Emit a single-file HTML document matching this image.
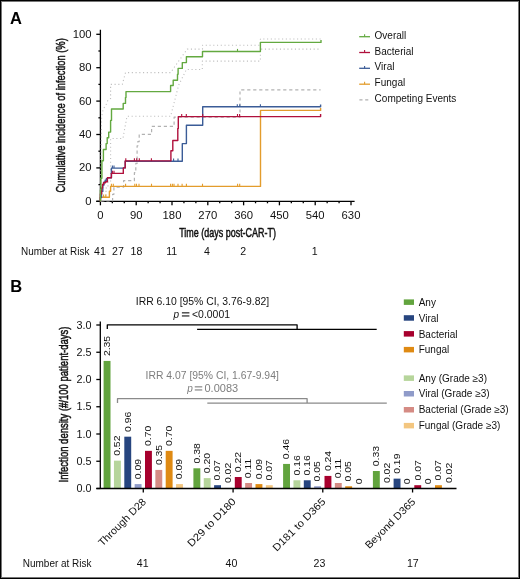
<!DOCTYPE html>
<html><head><meta charset="utf-8"><style>
html,body{margin:0;padding:0;background:#fff;}
svg{display:block;will-change:transform;font-family:"Liberation Sans", sans-serif;}
</style></head><body>
<svg width="520" height="579" viewBox="0 0 520 579">
<rect width="520" height="579" fill="#fff"/>
<rect x="0.5" y="0.5" width="519" height="578" fill="none" stroke="#000" stroke-width="1"/>
<rect x="1.5" y="1.5" width="517" height="576" fill="none" stroke="#777" stroke-width="1"/>
<text x="10.00" y="23.70" font-size="16.5" text-anchor="start" fill="#000" font-weight="bold">A</text>
<g stroke="#000" stroke-width="1.3" fill="none">
<path d="M100.4,29.7 V201.3 M96.3,201.3 H354.6"/>
<path d="M96.3,201.30 H100.4"/>
<path d="M98.4,184.60 H100.4"/>
<path d="M96.3,167.90 H100.4"/>
<path d="M98.4,151.20 H100.4"/>
<path d="M96.3,134.50 H100.4"/>
<path d="M98.4,117.80 H100.4"/>
<path d="M96.3,101.10 H100.4"/>
<path d="M98.4,84.40 H100.4"/>
<path d="M96.3,67.70 H100.4"/>
<path d="M98.4,51.00 H100.4"/>
<path d="M96.3,34.30 H100.4"/>
<path d="M100.40,201.3 V205.3"/>
<path d="M112.33,201.3 V203.3"/>
<path d="M124.27,201.3 V203.3"/>
<path d="M136.20,201.3 V205.3"/>
<path d="M148.14,201.3 V203.3"/>
<path d="M160.07,201.3 V203.3"/>
<path d="M172.00,201.3 V205.3"/>
<path d="M183.94,201.3 V203.3"/>
<path d="M195.87,201.3 V203.3"/>
<path d="M207.81,201.3 V205.3"/>
<path d="M219.74,201.3 V203.3"/>
<path d="M231.67,201.3 V203.3"/>
<path d="M243.61,201.3 V205.3"/>
<path d="M255.54,201.3 V203.3"/>
<path d="M267.48,201.3 V203.3"/>
<path d="M279.41,201.3 V205.3"/>
<path d="M291.34,201.3 V203.3"/>
<path d="M303.28,201.3 V203.3"/>
<path d="M315.21,201.3 V205.3"/>
<path d="M327.15,201.3 V203.3"/>
<path d="M339.08,201.3 V203.3"/>
<path d="M351.01,201.3 V205.3"/>
</g>
<text x="91.60" y="204.80" font-size="10" text-anchor="end" fill="#111" textLength="6.28" lengthAdjust="spacingAndGlyphs" >0</text>
<text x="91.60" y="171.40" font-size="10" text-anchor="end" fill="#111" textLength="12.57" lengthAdjust="spacingAndGlyphs" >20</text>
<text x="91.60" y="138.00" font-size="10" text-anchor="end" fill="#111" textLength="12.57" lengthAdjust="spacingAndGlyphs" >40</text>
<text x="91.60" y="104.60" font-size="10" text-anchor="end" fill="#111" textLength="12.57" lengthAdjust="spacingAndGlyphs" >60</text>
<text x="91.60" y="71.20" font-size="10" text-anchor="end" fill="#111" textLength="12.57" lengthAdjust="spacingAndGlyphs" >80</text>
<text x="91.60" y="37.80" font-size="10" text-anchor="end" fill="#111" textLength="18.85" lengthAdjust="spacingAndGlyphs" >100</text>
<text x="100.40" y="219.30" font-size="10" text-anchor="middle" fill="#111" textLength="6.28" lengthAdjust="spacingAndGlyphs" >0</text>
<text x="136.20" y="219.30" font-size="10" text-anchor="middle" fill="#111" textLength="12.57" lengthAdjust="spacingAndGlyphs" >90</text>
<text x="172.00" y="219.30" font-size="10" text-anchor="middle" fill="#111" textLength="18.85" lengthAdjust="spacingAndGlyphs" >180</text>
<text x="207.81" y="219.30" font-size="10" text-anchor="middle" fill="#111" textLength="18.85" lengthAdjust="spacingAndGlyphs" >270</text>
<text x="243.61" y="219.30" font-size="10" text-anchor="middle" fill="#111" textLength="18.85" lengthAdjust="spacingAndGlyphs" >360</text>
<text x="279.41" y="219.30" font-size="10" text-anchor="middle" fill="#111" textLength="18.85" lengthAdjust="spacingAndGlyphs" >450</text>
<text x="315.21" y="219.30" font-size="10" text-anchor="middle" fill="#111" textLength="18.85" lengthAdjust="spacingAndGlyphs" >540</text>
<text x="351.01" y="219.30" font-size="10" text-anchor="middle" fill="#111" textLength="18.85" lengthAdjust="spacingAndGlyphs" >630</text>
<text x="179.20" y="237.30" font-size="12.8" text-anchor="start" fill="#111" textLength="96.80" lengthAdjust="spacingAndGlyphs" stroke="#111" stroke-width="0.5">Time (days post-CAR-T)</text>
<text transform="translate(64.80,192.50) rotate(-90)" font-size="13.2" text-anchor="start" fill="#111" textLength="154.30" lengthAdjust="spacingAndGlyphs" stroke="#111" stroke-width="0.5">Cumulative incidence of infection (%)</text>
<path d="M100.4,201.3 L101.6,116.8 L103,110 L104.5,107 L106.5,104 L108,100 L110.6,98.5 V84.4 H122.3 L125.5,72.6 H170.6 L178,62 L187.3,49.1 H202.5 V45.2 H260.4 V39 H320.6" fill="none" stroke="#bebebe" stroke-width="1.1" stroke-linejoin="round" stroke-dasharray="1.1 2.65"/>
<path d="M100.4,201.3 H104 V195 H106 V188 H108 V182 H110.6 V138.5 H122.9 L127,116.3 H170.6 L178.7,85.1 L186.4,69.5 H202.3 V61.1 H260.4 V49.1 H320.6" fill="none" stroke="#bebebe" stroke-width="1.1" stroke-linejoin="round" stroke-dasharray="1.1 2.65"/>
<path d="M100.4,201 H112.6 V194.3 H113.9 V187.2 H123.6 V180.7 H134.4 V172.7 H135.8 V163.4 H137.1 V145.8 H137.8 V141.6 H139.2 V134.4 H151.6 V126.4 H174.1 V117.2 H240 V89.8 H320.6" fill="none" stroke="#b2b2b2" stroke-width="1.2" stroke-linejoin="round" stroke-dasharray="3.2 2.8"/>
<path d="M100.4,201.3 V197.2 H109.4 V191.3 H110.6 V186.4 H260.5 V110.4 H320.6 V108" fill="none" stroke="#e39c2c" stroke-width="1.4" stroke-linejoin="round" />
<path d="M103.6,197.2 V194.6 M105.8,197.2 V194.6" fill="none" stroke="#e39c2c" stroke-width="1.1" stroke-linejoin="round" />
<path d="M111.4,186.4 V183.8 M113.3,186.4 V183.8 M125.6,186.4 V183.8 M134.8,186.4 V183.8 M136.5,186.4 V183.8 M139,186.4 V183.8 M151.5,186.4 V183.8 M170.6,186.4 V183.8 M172.4,186.4 V183.8 M174,186.4 V183.8 M178,186.4 V183.8 M182.1,186.4 V183.8 M186.4,186.4 V183.8 M202.5,186.4 V183.8 M237.6,186.4 V183.8 M239.7,186.4 V183.8" fill="none" stroke="#e39c2c" stroke-width="1.1" stroke-linejoin="round" />
<path d="M100.4,201.3 V197.5 H101.5 V191.4 H102.8 V185 H104 V182 H105.2 V180.3 H106.4 V178.6 H107.6 V177.8 H111.4 V168.1 H123.3 V167.9 H125.2 V161.2 H182.3 V143.6 H186.4 V125.2 H202.7 V106.8 H320.6 V104.4" fill="none" stroke="#3b5c97" stroke-width="1.4" stroke-linejoin="round" />
<path d="M173.6,161.2 V158.6 M178,161.2 V158.6" fill="none" stroke="#3b5c97" stroke-width="1.1" stroke-linejoin="round" />
<path d="M237.3,106.8 V104.2 M239.8,106.8 V104.2 M260.4,106.8 V104.2" fill="none" stroke="#3b5c97" stroke-width="1.1" stroke-linejoin="round" />
<path d="M112.4,168.1 V165.5 M114,168.1 V165.5" fill="none" stroke="#3b5c97" stroke-width="1.1" stroke-linejoin="round" />
<path d="M100.4,201.3 V194 H101.6 V188 H102.5 V184.5 H103.5 V182.8 H105.5 V181.7 H107.4 V177.8 H111.4 V173.4 H123.3 V167.9 H125.2 V160.9 H170.9 V150.7 H172.8 V140.5 H177.8 V128.5 H178.3 V116.6 H320.6 V114.1" fill="none" stroke="#b0103c" stroke-width="1.4" stroke-linejoin="round" />
<path d="M125.8,160.9 V158.3 M134.4,160.9 V158.3 M136.7,160.9 V158.3 M139.3,160.9 V158.3 M151.4,160.9 V158.3" fill="none" stroke="#b0103c" stroke-width="1.1" stroke-linejoin="round" />
<path d="M181.7,116.6 V114.0 M186.3,116.6 V114.0 M202.7,116.6 V114.0 M237.5,116.6 V114.0 M239.6,116.6 V114.0" fill="none" stroke="#b0103c" stroke-width="1.1" stroke-linejoin="round" />
<path d="M112.4,173.4 V170.8 M114,173.4 V170.8" fill="none" stroke="#b0103c" stroke-width="1.1" stroke-linejoin="round" />
<path d="M100.4,201.3 V190 H100.9 V178.2 H101.9 V160.8 H103.4 V149.5 H106.1 V143.6 H107.2 V137.8 H108.7 V132.1 H110.6 V120.4 H111.5 V109 H123.2 V103.4 H125.5 V97.4 H126 V91.6 H170.6 V85.5 H173.2 V80.2 H177.5 V74.2 H178.1 V68.4 H182.3 V62.6 H186.4 V56.8 H202.5 V51.5 H260.4 V42.4 H321 V40.1" fill="none" stroke="#63a940" stroke-width="1.4" stroke-linejoin="round" />
<path d="M237.5,51.5 V48.9" fill="none" stroke="#63a940" stroke-width="1.1" stroke-linejoin="round" />
<path d="M359.2,36.7 H370" fill="none" stroke="#63a940" stroke-width="1.3" stroke-linejoin="round" />
<path d="M364.6,36.7 V34.300000000000004" fill="none" stroke="#63a940" stroke-width="1.1" stroke-linejoin="round" />
<text x="374.60" y="38.70" font-size="10" text-anchor="start" fill="#111" >Overall</text>
<path d="M359.2,52.5 H370" fill="none" stroke="#b0103c" stroke-width="1.3" stroke-linejoin="round" />
<path d="M364.6,52.5 V50.1" fill="none" stroke="#b0103c" stroke-width="1.1" stroke-linejoin="round" />
<text x="374.60" y="54.50" font-size="10" text-anchor="start" fill="#111" >Bacterial</text>
<path d="M359.2,68.3 H370" fill="none" stroke="#3b5c97" stroke-width="1.3" stroke-linejoin="round" />
<path d="M364.6,68.3 V65.89999999999999" fill="none" stroke="#3b5c97" stroke-width="1.1" stroke-linejoin="round" />
<text x="374.60" y="70.30" font-size="10" text-anchor="start" fill="#111" >Viral</text>
<path d="M359.2,84.2 H370" fill="none" stroke="#e39c2c" stroke-width="1.3" stroke-linejoin="round" />
<path d="M364.6,84.2 V81.8" fill="none" stroke="#e39c2c" stroke-width="1.1" stroke-linejoin="round" />
<text x="374.60" y="86.20" font-size="10" text-anchor="start" fill="#111" >Fungal</text>
<path d="M359.4,99.8 H362.5 M365.2,99.8 H368.3" fill="none" stroke="#b0b0b0" stroke-width="1.2" stroke-linejoin="round" />
<text x="374.60" y="101.50" font-size="10" text-anchor="start" fill="#111" >Competing Events</text>
<text x="21.10" y="255.00" font-size="10" text-anchor="start" fill="#111" textLength="68.30" lengthAdjust="spacingAndGlyphs" >Number at Risk</text>
<text x="100.00" y="255.00" font-size="10" text-anchor="middle" fill="#111" textLength="11.79" lengthAdjust="spacingAndGlyphs" >41</text>
<text x="118.00" y="255.00" font-size="10" text-anchor="middle" fill="#111" textLength="11.79" lengthAdjust="spacingAndGlyphs" >27</text>
<text x="136.50" y="255.00" font-size="10" text-anchor="middle" fill="#111" textLength="11.79" lengthAdjust="spacingAndGlyphs" >18</text>
<text x="171.70" y="255.00" font-size="10" text-anchor="middle" fill="#111" textLength="11.00" lengthAdjust="spacingAndGlyphs" >11</text>
<text x="207.00" y="255.00" font-size="10" text-anchor="middle" fill="#111" textLength="5.89" lengthAdjust="spacingAndGlyphs" >4</text>
<text x="243.20" y="255.00" font-size="10" text-anchor="middle" fill="#111" textLength="5.89" lengthAdjust="spacingAndGlyphs" >2</text>
<text x="314.60" y="255.00" font-size="10" text-anchor="middle" fill="#111" textLength="5.89" lengthAdjust="spacingAndGlyphs" >1</text>
<text x="10.20" y="292.10" font-size="16.5" text-anchor="start" fill="#000" font-weight="bold">B</text>
<text x="135.80" y="304.90" font-size="10" text-anchor="start" fill="#111" textLength="133.30" lengthAdjust="spacingAndGlyphs" >IRR 6.10 [95% CI, 3.76-9.82]</text>
<text x="173.60" y="318.10" font-size="10" text-anchor="start" fill="#111" font-style="italic">p</text>
<rect x="181.9" y="312.3" width="7.5" height="1.1" fill="#111"/><rect x="181.9" y="315.4" width="7.5" height="1.1" fill="#111"/>
<text x="192.00" y="318.10" font-size="10" text-anchor="start" fill="#111" textLength="38.00" lengthAdjust="spacingAndGlyphs" >&lt;0.0001</text>
<path d="M107.3,329 V324.8 H297.1 V329" fill="none" stroke="#000" stroke-width="1.3" stroke-linejoin="round" />
<path d="M197.1,329.3 H376.7" fill="none" stroke="#000" stroke-width="1.3" stroke-linejoin="round" />
<text x="145.60" y="379.10" font-size="10" text-anchor="start" fill="#7d7d7d" textLength="133.20" lengthAdjust="spacingAndGlyphs" >IRR 4.07 [95% CI, 1.67-9.94]</text>
<text x="187.20" y="392.10" font-size="10" text-anchor="start" fill="#7d7d7d" font-style="italic">p</text>
<rect x="194.75" y="386.3" width="7.5" height="1.1" fill="#7d7d7d"/><rect x="194.75" y="389.4" width="7.5" height="1.1" fill="#7d7d7d"/>
<text x="204.50" y="392.10" font-size="10" text-anchor="start" fill="#7d7d7d" textLength="33.60" lengthAdjust="spacingAndGlyphs" >0.0083</text>
<path d="M117.5,403 V398.7 H307.1 V403" fill="none" stroke="#8a8a8a" stroke-width="1.3" stroke-linejoin="round" />
<path d="M207.3,403.2 H386.8" fill="none" stroke="#8a8a8a" stroke-width="1.3" stroke-linejoin="round" />
<rect x="103.60" y="360.92" width="6.9" height="127.58" fill="#62a43e"/>
<text transform="translate(109.85,356.12) rotate(-90)" font-size="9.7" text-anchor="start" fill="#111" textLength="20.29" lengthAdjust="spacingAndGlyphs" >2.35</text>
<rect x="113.95" y="460.66" width="6.9" height="27.84" fill="#b6d59b"/>
<text transform="translate(120.20,455.86) rotate(-90)" font-size="9.7" text-anchor="start" fill="#111" textLength="20.29" lengthAdjust="spacingAndGlyphs" >0.52</text>
<rect x="124.30" y="436.68" width="6.9" height="51.82" fill="#27457f"/>
<text transform="translate(130.55,431.88) rotate(-90)" font-size="9.7" text-anchor="start" fill="#111" textLength="20.29" lengthAdjust="spacingAndGlyphs" >0.96</text>
<rect x="134.65" y="484.10" width="6.9" height="4.40" fill="#8f9bc9"/>
<text transform="translate(140.90,479.30) rotate(-90)" font-size="9.7" text-anchor="start" fill="#111" textLength="20.29" lengthAdjust="spacingAndGlyphs" >0.09</text>
<rect x="145.00" y="450.85" width="6.9" height="37.65" fill="#a7002d"/>
<text transform="translate(151.25,446.05) rotate(-90)" font-size="9.7" text-anchor="start" fill="#111" textLength="20.29" lengthAdjust="spacingAndGlyphs" >0.70</text>
<rect x="155.35" y="469.93" width="6.9" height="18.57" fill="#d58b84"/>
<text transform="translate(161.60,465.12) rotate(-90)" font-size="9.7" text-anchor="start" fill="#111" textLength="20.29" lengthAdjust="spacingAndGlyphs" >0.35</text>
<rect x="165.70" y="450.85" width="6.9" height="37.65" fill="#df8a13"/>
<text transform="translate(171.95,446.05) rotate(-90)" font-size="9.7" text-anchor="start" fill="#111" textLength="20.29" lengthAdjust="spacingAndGlyphs" >0.70</text>
<rect x="176.05" y="484.10" width="6.9" height="4.40" fill="#f3c680"/>
<text transform="translate(182.30,479.30) rotate(-90)" font-size="9.7" text-anchor="start" fill="#111" textLength="20.29" lengthAdjust="spacingAndGlyphs" >0.09</text>
<rect x="193.40" y="468.29" width="6.9" height="20.21" fill="#62a43e"/>
<text transform="translate(199.65,463.49) rotate(-90)" font-size="9.7" text-anchor="start" fill="#111" textLength="20.29" lengthAdjust="spacingAndGlyphs" >0.38</text>
<rect x="203.75" y="478.10" width="6.9" height="10.40" fill="#b6d59b"/>
<text transform="translate(210.00,473.30) rotate(-90)" font-size="9.7" text-anchor="start" fill="#111" textLength="20.29" lengthAdjust="spacingAndGlyphs" >0.20</text>
<rect x="214.10" y="485.19" width="6.9" height="3.31" fill="#27457f"/>
<text transform="translate(220.35,480.38) rotate(-90)" font-size="9.7" text-anchor="start" fill="#111" textLength="20.29" lengthAdjust="spacingAndGlyphs" >0.07</text>
<rect x="224.45" y="487.91" width="6.9" height="0.59" fill="#8f9bc9"/>
<text transform="translate(230.70,483.11) rotate(-90)" font-size="9.7" text-anchor="start" fill="#111" textLength="20.29" lengthAdjust="spacingAndGlyphs" >0.02</text>
<rect x="234.80" y="477.01" width="6.9" height="11.49" fill="#a7002d"/>
<text transform="translate(241.05,472.21) rotate(-90)" font-size="9.7" text-anchor="start" fill="#111" textLength="20.29" lengthAdjust="spacingAndGlyphs" >0.22</text>
<rect x="245.15" y="483.00" width="6.9" height="5.50" fill="#d58b84"/>
<text transform="translate(251.40,478.20) rotate(-90)" font-size="9.7" text-anchor="start" fill="#111" textLength="19.52" lengthAdjust="spacingAndGlyphs" >0.11</text>
<rect x="255.50" y="484.10" width="6.9" height="4.40" fill="#df8a13"/>
<text transform="translate(261.75,479.30) rotate(-90)" font-size="9.7" text-anchor="start" fill="#111" textLength="20.29" lengthAdjust="spacingAndGlyphs" >0.09</text>
<rect x="265.85" y="485.19" width="6.9" height="3.31" fill="#f3c680"/>
<text transform="translate(272.10,480.38) rotate(-90)" font-size="9.7" text-anchor="start" fill="#111" textLength="20.29" lengthAdjust="spacingAndGlyphs" >0.07</text>
<rect x="283.10" y="463.93" width="6.9" height="24.57" fill="#62a43e"/>
<text transform="translate(289.35,459.13) rotate(-90)" font-size="9.7" text-anchor="start" fill="#111" textLength="20.29" lengthAdjust="spacingAndGlyphs" >0.46</text>
<rect x="293.45" y="480.28" width="6.9" height="8.22" fill="#b6d59b"/>
<text transform="translate(299.70,475.48) rotate(-90)" font-size="9.7" text-anchor="start" fill="#111" textLength="20.29" lengthAdjust="spacingAndGlyphs" >0.16</text>
<rect x="303.80" y="480.28" width="6.9" height="8.22" fill="#27457f"/>
<text transform="translate(310.05,475.48) rotate(-90)" font-size="9.7" text-anchor="start" fill="#111" textLength="20.29" lengthAdjust="spacingAndGlyphs" >0.16</text>
<rect x="314.15" y="486.27" width="6.9" height="2.23" fill="#8f9bc9"/>
<text transform="translate(320.40,481.47) rotate(-90)" font-size="9.7" text-anchor="start" fill="#111" textLength="20.29" lengthAdjust="spacingAndGlyphs" >0.05</text>
<rect x="324.50" y="475.92" width="6.9" height="12.58" fill="#a7002d"/>
<text transform="translate(330.75,471.12) rotate(-90)" font-size="9.7" text-anchor="start" fill="#111" textLength="20.29" lengthAdjust="spacingAndGlyphs" >0.24</text>
<rect x="334.85" y="483.00" width="6.9" height="5.50" fill="#d58b84"/>
<text transform="translate(341.10,478.20) rotate(-90)" font-size="9.7" text-anchor="start" fill="#111" textLength="19.52" lengthAdjust="spacingAndGlyphs" >0.11</text>
<rect x="345.20" y="486.27" width="6.9" height="2.23" fill="#df8a13"/>
<text transform="translate(351.45,481.47) rotate(-90)" font-size="9.7" text-anchor="start" fill="#111" textLength="20.29" lengthAdjust="spacingAndGlyphs" >0.05</text>
<text transform="translate(361.80,484.20) rotate(-90)" font-size="9.7" text-anchor="start" fill="#111" textLength="5.80" lengthAdjust="spacingAndGlyphs" >0</text>
<rect x="372.90" y="471.01" width="6.9" height="17.49" fill="#62a43e"/>
<text transform="translate(379.15,466.21) rotate(-90)" font-size="9.7" text-anchor="start" fill="#111" textLength="20.29" lengthAdjust="spacingAndGlyphs" >0.33</text>
<rect x="383.25" y="487.91" width="6.9" height="0.59" fill="#b6d59b"/>
<text transform="translate(389.50,483.11) rotate(-90)" font-size="9.7" text-anchor="start" fill="#111" textLength="20.29" lengthAdjust="spacingAndGlyphs" >0.02</text>
<rect x="393.60" y="478.64" width="6.9" height="9.86" fill="#27457f"/>
<text transform="translate(399.85,473.84) rotate(-90)" font-size="9.7" text-anchor="start" fill="#111" textLength="20.29" lengthAdjust="spacingAndGlyphs" >0.19</text>
<text transform="translate(410.20,484.20) rotate(-90)" font-size="9.7" text-anchor="start" fill="#111" textLength="5.80" lengthAdjust="spacingAndGlyphs" >0</text>
<rect x="414.30" y="485.19" width="6.9" height="3.31" fill="#a7002d"/>
<text transform="translate(420.55,480.38) rotate(-90)" font-size="9.7" text-anchor="start" fill="#111" textLength="20.29" lengthAdjust="spacingAndGlyphs" >0.07</text>
<text transform="translate(430.90,484.20) rotate(-90)" font-size="9.7" text-anchor="start" fill="#111" textLength="5.80" lengthAdjust="spacingAndGlyphs" >0</text>
<rect x="435.00" y="485.19" width="6.9" height="3.31" fill="#df8a13"/>
<text transform="translate(441.25,480.38) rotate(-90)" font-size="9.7" text-anchor="start" fill="#111" textLength="20.29" lengthAdjust="spacingAndGlyphs" >0.07</text>
<rect x="445.35" y="487.91" width="6.9" height="0.59" fill="#f3c680"/>
<text transform="translate(451.60,483.11) rotate(-90)" font-size="9.7" text-anchor="start" fill="#111" textLength="20.29" lengthAdjust="spacingAndGlyphs" >0.02</text>
<g stroke="#000" stroke-width="1.3" fill="none">
<path d="M100.3,321.4 V488.5 M96.4,488.5 H456.5"/>
<path d="M96.3,488.50 H100.3"/>
<path d="M96.3,461.25 H100.3"/>
<path d="M96.3,434.00 H100.3"/>
<path d="M96.3,406.75 H100.3"/>
<path d="M96.3,379.50 H100.3"/>
<path d="M96.3,352.25 H100.3"/>
<path d="M96.3,325.00 H100.3"/>
<path d="M143.28,488.5 V492.5"/>
<path d="M233.08,488.5 V492.5"/>
<path d="M322.78,488.5 V492.5"/>
<path d="M412.57,488.5 V492.5"/>
</g>
<text x="91.50" y="492.10" font-size="10.3" text-anchor="end" fill="#111" textLength="15.03" lengthAdjust="spacingAndGlyphs" >0.0</text>
<text x="91.50" y="464.85" font-size="10.3" text-anchor="end" fill="#111" textLength="15.03" lengthAdjust="spacingAndGlyphs" >0.5</text>
<text x="91.50" y="437.60" font-size="10.3" text-anchor="end" fill="#111" textLength="15.03" lengthAdjust="spacingAndGlyphs" >1.0</text>
<text x="91.50" y="410.35" font-size="10.3" text-anchor="end" fill="#111" textLength="15.03" lengthAdjust="spacingAndGlyphs" >1.5</text>
<text x="91.50" y="383.10" font-size="10.3" text-anchor="end" fill="#111" textLength="15.03" lengthAdjust="spacingAndGlyphs" >2.0</text>
<text x="91.50" y="355.85" font-size="10.3" text-anchor="end" fill="#111" textLength="15.03" lengthAdjust="spacingAndGlyphs" >2.5</text>
<text x="91.50" y="328.60" font-size="10.3" text-anchor="end" fill="#111" textLength="15.03" lengthAdjust="spacingAndGlyphs" >3.0</text>
<text transform="translate(68.40,482.50) rotate(-90)" font-size="13" text-anchor="start" fill="#111" textLength="156.00" lengthAdjust="spacingAndGlyphs" stroke="#111" stroke-width="0.5">Infection density (#/100 patient-days)</text>
<text transform="translate(146.78,502.40) rotate(-45)" font-size="10.4" text-anchor="end" fill="#111" textLength="62.80" lengthAdjust="spacingAndGlyphs" >Through D28</text>
<text transform="translate(236.58,502.40) rotate(-45)" font-size="10.4" text-anchor="end" fill="#111" textLength="63.80" lengthAdjust="spacingAndGlyphs" >D29 to D180</text>
<text transform="translate(326.28,502.40) rotate(-45)" font-size="10.4" text-anchor="end" fill="#111" textLength="70.00" lengthAdjust="spacingAndGlyphs" >D181 to D365</text>
<text transform="translate(416.07,502.40) rotate(-45)" font-size="10.4" text-anchor="end" fill="#111" textLength="66.40" lengthAdjust="spacingAndGlyphs" >Beyond D365</text>
<rect x="403.8" y="299.4" width="10.2" height="5.5" fill="#62a43e"/>
<text x="418.70" y="305.80" font-size="10" text-anchor="start" fill="#111" >Any</text>
<rect x="403.8" y="315.2" width="10.2" height="5.5" fill="#27457f"/>
<text x="418.70" y="321.60" font-size="10" text-anchor="start" fill="#111" >Viral</text>
<rect x="403.8" y="331.1" width="10.2" height="5.5" fill="#a7002d"/>
<text x="418.70" y="337.50" font-size="10" text-anchor="start" fill="#111" >Bacterial</text>
<rect x="403.8" y="346.9" width="10.2" height="5.5" fill="#df8a13"/>
<text x="418.70" y="353.30" font-size="10" text-anchor="start" fill="#111" >Fungal</text>
<rect x="403.8" y="375.4" width="10.2" height="5.5" fill="#b6d59b"/>
<text x="418.70" y="381.80" font-size="10" text-anchor="start" fill="#111" >Any (Grade ≥3)</text>
<rect x="403.8" y="391.0" width="10.2" height="5.5" fill="#8f9bc9"/>
<text x="418.70" y="397.40" font-size="10" text-anchor="start" fill="#111" >Viral (Grade ≥3)</text>
<rect x="403.8" y="407.0" width="10.2" height="5.5" fill="#d58b84"/>
<text x="418.70" y="413.40" font-size="10" text-anchor="start" fill="#111" >Bacterial (Grade ≥3)</text>
<rect x="403.8" y="422.9" width="10.2" height="5.5" fill="#f3c680"/>
<text x="418.70" y="429.30" font-size="10" text-anchor="start" fill="#111" >Fungal (Grade ≥3)</text>
<text x="22.80" y="566.60" font-size="10" text-anchor="start" fill="#111" textLength="68.70" lengthAdjust="spacingAndGlyphs" >Number at Risk</text>
<text x="142.70" y="566.60" font-size="10" text-anchor="middle" fill="#111" textLength="11.79" lengthAdjust="spacingAndGlyphs" >41</text>
<text x="231.50" y="566.60" font-size="10" text-anchor="middle" fill="#111" textLength="11.79" lengthAdjust="spacingAndGlyphs" >40</text>
<text x="319.40" y="566.60" font-size="10" text-anchor="middle" fill="#111" textLength="11.79" lengthAdjust="spacingAndGlyphs" >23</text>
<text x="412.80" y="566.60" font-size="10" text-anchor="middle" fill="#111" textLength="11.79" lengthAdjust="spacingAndGlyphs" >17</text>
</svg>
</body></html>
